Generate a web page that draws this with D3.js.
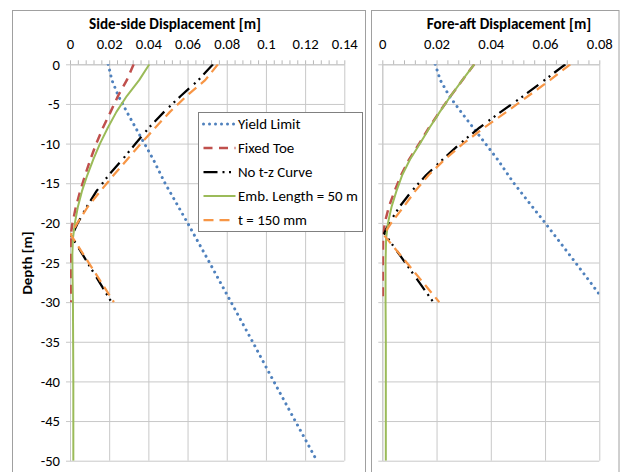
<!DOCTYPE html>
<html>
<head>
<meta charset="utf-8">
<script src="https://cdn.jsdelivr.net/npm/d3@7"></script>
<style>
  body { margin: 0; background: #fff; }
  svg { display: block; }
  text { font-family: Carlito, Calibri, "Liberation Sans", Arial, sans-serif; fill: #000; }
</style>
</head>
<body>
<svg id="chart" width="620" height="472"></svg>
<script>
// ---- axis ticks ----
const depthTicks = [0, -5, -10, -15, -20, -25, -30, -35, -40, -45, -50];
const sideTicks = [0, 0.02, 0.04, 0.06, 0.08, 0.1, 0.12, 0.14];
const foreTicks = [0, 0.02, 0.04, 0.06, 0.08];

// ---- yield limit (same envelope in both directions) ----
const yieldDepth = [0, -2, -4, -6, -8, -10, -12, -15, -20, -25, -30, -35, -40, -45, -50];
const yieldDisp  = [0.0195, 0.0214, 0.0247, 0.0290, 0.0335, 0.0380, 0.0425, 0.0485, 0.0600, 0.0712, 0.0822, 0.0932, 0.1040, 0.1150, 0.1260];

// ---- side-side response ----
const sideFixedDepth = [0, -2, -4, -6, -8, -10, -12, -14, -16, -18, -20, -21, -22, -25, -30];
const sideFixedDisp  = [0.0325, 0.0290, 0.0245, 0.0207, 0.0168, 0.0134, 0.0104, 0.0077, 0.0052, 0.0030, 0.0013, 0.0007, 0.0005, 0.0004, 0.0004];

const sideNoTzDepth = [0, -2, -4, -6, -8, -10, -12, -14, -16, -18, -20, -21.7, -30];
const sideNoTzDisp  = [0.0730, 0.0655, 0.0565, 0.0480, 0.0403, 0.0335, 0.0268, 0.0197, 0.0135, 0.0085, 0.0040, 0.0008, 0.0212];

const sideEmbDepth = [0, -2, -4, -6, -8, -10, -12, -14, -16, -18, -20, -22, -24, -27, -30, -35, -40, -45, -50];
const sideEmbDisp  = [0.0405, 0.0353, 0.0290, 0.0237, 0.0193, 0.0153, 0.0119, 0.0088, 0.0061, 0.0040, 0.0025, 0.0015, 0.0012, 0.0013, 0.0015, 0.0016, 0.0017, 0.0017, 0.0017];

const sideThickDepth = [0, -2, -4, -6, -8, -10, -12, -14, -16, -18, -20, -21.5, -30];
const sideThickDisp  = [0.0755, 0.0690, 0.0595, 0.0510, 0.0435, 0.0362, 0.0292, 0.0222, 0.0155, 0.0090, 0.0038, 0.0004, 0.0224];

// ---- fore-aft response ----
const foreFixedDepth = [0, -2, -4, -6, -8, -10, -12, -14, -16, -18, -20, -22, -25, -30];
const foreFixedDisp  = [0.0339, 0.0295, 0.0252, 0.0211, 0.0172, 0.0136, 0.0099, 0.0069, 0.0045, 0.0024, 0.0009, 0.0003, 0.0002, 0.0002];

const foreNoTzDepth = [0, -2, -4, -6, -8, -10, -12, -14, -16, -18, -20, -21.3, -30];
const foreNoTzDisp  = [0.0675, 0.0598, 0.0520, 0.0437, 0.0358, 0.0287, 0.0223, 0.0161, 0.0108, 0.0063, 0.0026, 0.0007, 0.0188];

const foreEmbDepth = [0, -2, -4, -6, -8, -10, -12, -14, -16, -18, -20, -22, -25, -30, -35, -40, -45, -50];
const foreEmbDisp  = [0.0339, 0.0295, 0.0252, 0.0212, 0.0174, 0.0139, 0.0102, 0.0073, 0.0052, 0.0034, 0.0021, 0.0014, 0.0012, 0.0012, 0.0013, 0.0013, 0.0013, 0.0013];

const foreThickDepth = [0, -2, -4, -6, -8, -10, -12, -14, -16, -18, -20, -21.5, -30];
const foreThickDisp  = [0.0693, 0.0618, 0.0538, 0.0458, 0.0375, 0.0298, 0.0230, 0.0170, 0.0121, 0.0078, 0.0033, 0.0005, 0.0210];

// ---- series names and styles ----
const seriesNames = ["Yield Limit", "Fixed Toe", "No t-z Curve", "Emb. Length = 50 m", "t = 150 mm"];
const seriesStyles = [
  { color: "#4f81bd", width: 3,    dash: "0.01 5.99", cap: "round" },
  { color: "#c0504d", width: 2.5,  dash: "9 6.5",     cap: "butt" },
  { color: "#000000", width: 2.25, dash: "14 5 2 4.5 2 6.5", cap: "butt" },
  { color: "#9bbb59", width: 2,    dash: null,        cap: "butt" },
  { color: "#f79646", width: 2.25, dash: "10 6",      cap: "butt" }
];

const zip = (d, v) => d.map((dep, i) => ({ depth: dep, disp: v[i] }));

const sideSeries = [
  zip(yieldDepth, yieldDisp),
  zip(sideFixedDepth, sideFixedDisp),
  zip(sideNoTzDepth, sideNoTzDisp),
  zip(sideEmbDepth, sideEmbDisp),
  zip(sideThickDepth, sideThickDisp)
];
const foreSeries = [
  zip(yieldDepth, yieldDisp),
  zip(foreFixedDepth, foreFixedDisp),
  zip(foreNoTzDepth, foreNoTzDisp),
  zip(foreEmbDepth, foreEmbDisp),
  zip(foreThickDepth, foreThickDisp)
];

const svg = d3.select("#chart");

// measure helper: font size that makes a string a given width
function fitSize(str, weight, width) {
  const t = svg.append("text").attr("font-size", 100).attr("font-weight", weight).text(str);
  const w = t.node().getComputedTextLength();
  t.remove();
  return 100 * width / w;
}
const tickSize = fitSize("0.02", "normal", 26);
const titleSize = fitSize("Side-side Displacement [m]", "bold", 172);
const depthSize = fitSize("Depth [m]", "bold", 63);
const legendSize = fitSize("Emb. Length = 50 m", "normal", 120);

const y = d3.scaleLinear().domain([0, -50]).range([64.3, 460.7]);
const fmt = d3.format("~g");

const panels = [
  {
    id: "side", box: [12.5, 10.5, 353, 480],
    x: d3.scaleLinear().domain([0, 0.14]).range([70, 344.3]),
    ticks: sideTicks, title: "Side-side Displacement [m]", titleX: 175,
    yLabels: true, series: sideSeries
  },
  {
    id: "fore", box: [371.5, 10.5, 247.5, 480],
    x: d3.scaleLinear().domain([0, 0.08]).range([382.3, 599.3]),
    ticks: foreTicks, title: "Fore-aft Displacement [m]", titleX: 509,
    yLabels: false, series: foreSeries
  }
];

panels.forEach(p => {
  const [x0, x1] = p.x.range();
  const [y0, y1] = y.range();
  const w = x1 - x0, h = y1 - y0;

  // chart frame
  svg.append("rect")
    .attr("x", p.box[0]).attr("y", p.box[1])
    .attr("width", p.box[2]).attr("height", p.box[3])
    .attr("fill", "#fff").attr("stroke", "#a0a0a0").attr("stroke-width", 1);

  // vertical gridlines
  svg.append("g").attr("transform", `translate(0,${y0})`)
    .call(d3.axisTop(p.x).tickValues(p.ticks).tickSize(-h).tickFormat(""))
    .call(g => g.select(".domain").remove())
    .call(g => g.selectAll("line").attr("stroke", "#c8c8c8"));

  // horizontal gridlines
  svg.append("g").attr("transform", `translate(${x0},0)`)
    .call(d3.axisLeft(y).tickValues(depthTicks).tickSize(-w).tickFormat(""))
    .call(g => g.select(".domain").remove())
    .call(g => g.selectAll("line").attr("stroke", "#c8c8c8"));

  // depth axis with outward ticks
  svg.append("g").attr("transform", `translate(${x0},0)`)
    .call(d3.axisLeft(y).tickValues(depthTicks).tickSizeInner(4).tickSizeOuter(0).tickPadding(6)
      .tickFormat(p.yLabels ? (d => String(d)) : ""))
    .call(g => g.select(".domain").attr("stroke", "#c8c8c8"))
    .call(g => g.selectAll("line").attr("stroke", "#c8c8c8"))
    .call(g => g.selectAll("text").attr("font-size", tickSize).attr("font-family", null).attr("fill", "#000"));

  // displacement axis at the top: minor ticks and labels
  const minor = d3.range(0, Math.round(p.x.domain()[1] / 0.004) + 1).map(i => i * 0.004);
  svg.append("g").attr("transform", `translate(0,${y0})`)
    .call(d3.axisTop(p.x).tickValues(minor).tickSizeInner(4).tickSizeOuter(0).tickFormat(""))
    .call(g => g.select(".domain").attr("stroke", "#c8c8c8"))
    .call(g => g.selectAll("line").attr("stroke", "#b8b8b8"));
  svg.append("g").attr("transform", `translate(0,${y0})`)
    .call(d3.axisTop(p.x).tickValues(p.ticks).tickSize(0).tickPadding(15).tickFormat(fmt))
    .call(g => g.select(".domain").remove())
    .call(g => g.selectAll("text").attr("font-size", tickSize).attr("font-family", null).attr("fill", "#000"));

  // axis title
  svg.append("text").attr("x", p.titleX).attr("y", 29)
    .attr("text-anchor", "middle").attr("font-weight", "bold").attr("font-size", titleSize)
    .text(p.title);

  // series, clipped to the plot area
  svg.append("clipPath").attr("id", "clip-" + p.id)
    .append("rect").attr("x", x0).attr("y", y0).attr("width", w).attr("height", h);

  const line = d3.line().x(d => p.x(d.disp)).y(d => y(d.depth)).curve(d3.curveLinear);
  const plot = svg.append("g").attr("clip-path", `url(#clip-${p.id})`);
  p.series.forEach((s, i) => {
    const st = seriesStyles[i];
    plot.append("path").datum(s).attr("d", line)
      .attr("fill", "none").attr("stroke", st.color).attr("stroke-width", st.width)
      .attr("stroke-dasharray", st.dash).attr("stroke-linecap", st.cap)
      .attr("stroke-linejoin", "round");
  });
});

// depth title
svg.append("text")
  .attr("transform", "translate(32,263) rotate(-90)")
  .attr("text-anchor", "middle").attr("font-weight", "bold").attr("font-size", depthSize)
  .text("Depth [m]");

// legend
const legend = svg.append("g").attr("transform", "translate(198.5,112.5)");
legend.append("rect").attr("width", 164).attr("height", 119)
  .attr("fill", "#fff").attr("stroke", "#808080").attr("stroke-width", 1);
const rowY = d3.scalePoint().domain(seriesNames).range([11.5, 107.5]);
seriesNames.forEach((name, i) => {
  const st = seriesStyles[i];
  const ry = rowY(name);
  legend.append("line").attr("x1", 5).attr("x2", 37).attr("y1", ry).attr("y2", ry)
    .attr("stroke", st.color).attr("stroke-width", st.width)
    .attr("stroke-dasharray", st.dash).attr("stroke-linecap", st.cap);
  legend.append("text").attr("x", 39.5).attr("y", ry).attr("dy", "0.35em")
    .attr("font-size", legendSize).text(name);
});
</script>
</body>
</html>
